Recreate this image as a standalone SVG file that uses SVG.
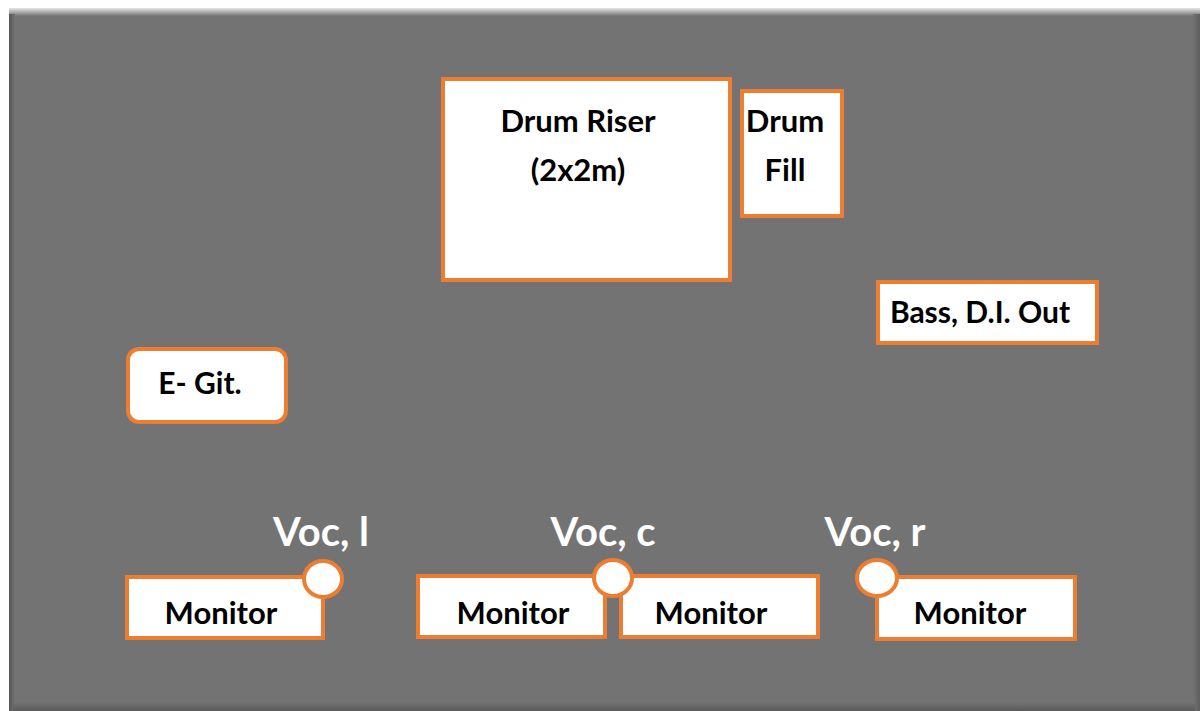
<svg xmlns="http://www.w3.org/2000/svg" width="1200" height="711" viewBox="0 0 1200 711">
<defs>
<style>
.box{fill:#ffffff;stroke:#ED7D31;stroke-width:4}
.lbl{font-family:Lato,"Open Sans","Liberation Sans",sans-serif;font-weight:bold;fill:#000000;text-anchor:middle}
.voc{font-family:Lato,"Open Sans","Liberation Sans",sans-serif;font-weight:bold;fill:#ffffff;text-anchor:middle;font-size:40px}
</style>
<linearGradient id="topEdge" x1="0" y1="0" x2="0" y2="1">
<stop offset="0" stop-color="#e6e6e6"/>
<stop offset="1" stop-color="#737373"/>
</linearGradient>
<linearGradient id="leftEdge" x1="0" y1="0" x2="1" y2="0">
<stop offset="0" stop-color="#555555"/>
<stop offset="1" stop-color="#737373"/>
</linearGradient>
<linearGradient id="rightEdge" x1="0" y1="0" x2="1" y2="0">
<stop offset="0" stop-color="#737373"/>
<stop offset="1" stop-color="#5e5e5e"/>
</linearGradient>
<linearGradient id="botEdge" x1="0" y1="0" x2="0" y2="1">
<stop offset="0" stop-color="#737373"/>
<stop offset="1" stop-color="#5a5a5a"/>
</linearGradient>
</defs>
<rect x="0" y="0" width="1200" height="711" fill="#ffffff"/>
<g id="stage">
<rect x="9" y="8" width="1191" height="703" fill="#737373"/>
<rect x="9" y="8" width="1191" height="8" fill="url(#topEdge)"/>
<rect x="9" y="14" width="6" height="697" fill="url(#leftEdge)"/>
<rect x="1193" y="14" width="7" height="697" fill="url(#rightEdge)"/>
<rect x="13" y="702" width="1182" height="9" fill="url(#botEdge)"/>
</g>
<g id="connectors"/>
<g id="drum-riser">
<rect class="box" x="443" y="79" width="287" height="201"/>
<text class="lbl" x="578" y="132" font-size="31">Drum Riser</text>
<text class="lbl" x="578" y="181" font-size="31">(2x2m)</text>
</g>
<g id="drum-fill">
<rect class="box" x="742" y="91" width="100" height="125"/>
<text class="lbl" x="785" y="132" font-size="31">Drum</text>
<text class="lbl" x="785" y="181" font-size="31">Fill</text>
</g>
<g id="bass">
<rect class="box" x="878" y="282" width="219" height="61"/>
<text class="lbl" x="980" y="323" font-size="30">Bass, D.I. Out</text>
</g>
<g id="e-git">
<rect class="box" x="128" y="349" width="158" height="73" rx="11"/>
<text class="lbl" x="200" y="394" font-size="30">E- Git.</text>
</g>
<g id="monitor-l">
<rect class="box" x="127" y="577" width="196" height="61"/>
<text class="lbl" x="221" y="624" font-size="31">Monitor</text>
</g>
<g id="monitor-cl">
<rect class="box" x="418" y="576" width="187" height="61"/>
<text class="lbl" x="513" y="624" font-size="31">Monitor</text>
</g>
<g id="monitor-cr">
<rect class="box" x="621" y="576" width="197" height="61"/>
<text class="lbl" x="711" y="624" font-size="31">Monitor</text>
</g>
<g id="monitor-r">
<rect class="box" x="877" y="577" width="198" height="62"/>
<text class="lbl" x="970" y="624" font-size="31">Monitor</text>
</g>
<g id="voc-l">
<ellipse class="box" cx="323" cy="579" rx="19" ry="18"/>
<text class="voc" x="321" y="546">Voc, l</text>
</g>
<g id="voc-c">
<ellipse class="box" cx="613" cy="578" rx="19" ry="18"/>
<text class="voc" x="603" y="546">Voc, c</text>
</g>
<g id="voc-r">
<ellipse class="box" cx="877" cy="578" rx="20" ry="18"/>
<text class="voc" x="875" y="546">Voc, r</text>
</g>
</svg>
